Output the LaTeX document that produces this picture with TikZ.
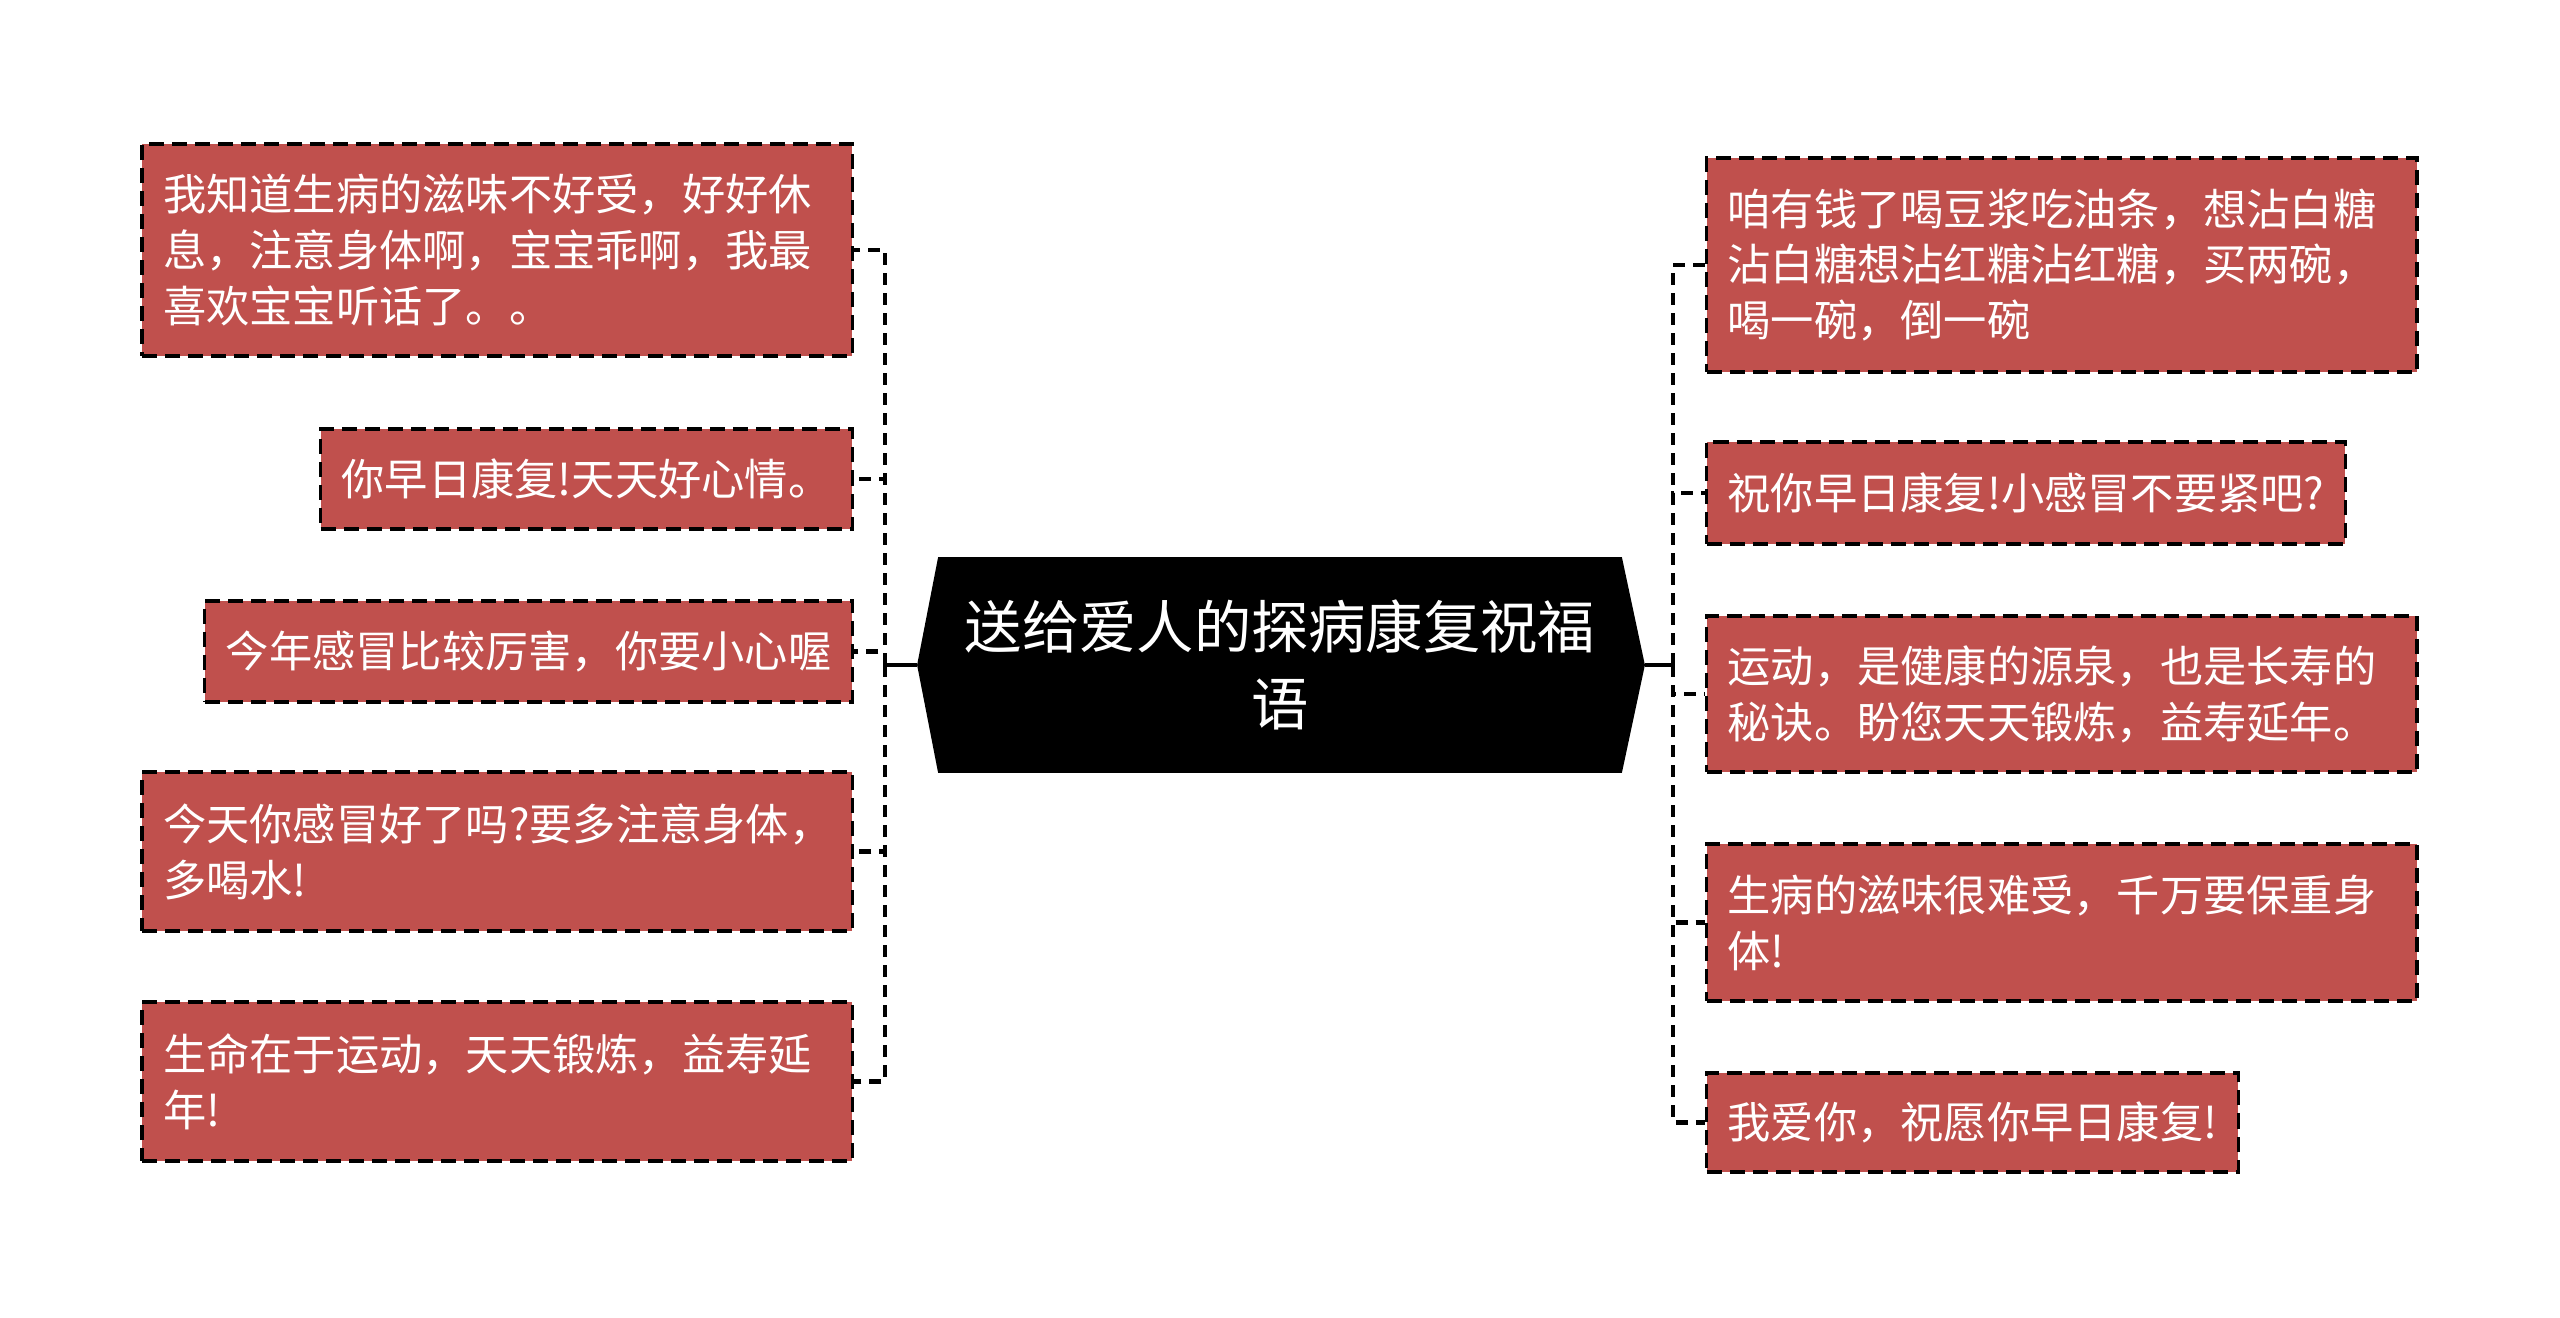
\documentclass[tikz,border=0pt]{standalone}
\usepackage{fontspec}
\usepackage{tikz}
\usetikzlibrary{calc,backgrounds,positioning}
\newfontfamily\cjk{Noto Sans CJK SC}
\definecolor{boxred}{RGB}{192,80,77}
\tikzset{
  leaf/.style={draw=black, line width=0.9pt, dash pattern=on 1.5mm off 0.8mm,
    fill=boxred, text=white, inner xsep=2.1mm, inner ysep=0mm, align=left,
    font=\cjk\fontsize{12.3pt}{15.9pt}\selectfont},
  wide/.style={text width=6.68cm},
  branch/.style={line width=1.2pt, dash pattern=on 1.2mm off 0.8mm},
  stem/.style={line width=1.2pt}
}
\begin{document}
\begin{tikzpicture}[x=0.01cm,y=-0.01cm]
\useasboundingbox (0,0) rectangle (2560,1318);
% centre
\node[text=white, align=center, minimum width=6.82cm, minimum height=2.14cm,
  font=\cjk\fontsize{16.3pt}{21.9pt}\selectfont] (root) at (1280,665) {送给爱人的探病康复祝福\\语};
\coordinate (rootL) at ($(root.west)+(-21,0)$);
\coordinate (rootR) at ($(root.east)+(23,0)$);
\begin{scope}[on background layer]
\fill[black] (root.north west) -- (root.north east) -- (rootR) -- (root.south east)
  -- (root.south west) -- (rootL) -- cycle;
\end{scope}
% left side
\node[leaf, wide, minimum height=2.12cm, anchor=east] (L1) at (854,250)
  {我知道生病的滋味不好受，好好休\\息，注意身体啊，宝宝乖啊，我最\\喜欢宝宝听话了。。};
\node[leaf, minimum width=5.29cm, minimum height=1.0cm, anchor=east] (L2) at (854,479)
  {你早日康复!天天好心情。};
\node[leaf, minimum width=6.45cm, minimum height=1.01cm, anchor=east] (L3) at (854,651.5)
  {今年感冒比较厉害，你要小心喔};
\node[leaf, wide, minimum height=1.59cm, anchor=east] (L4) at (854,851.5)
  {今天你感冒好了吗?要多注意身体，\\多喝水!};
\node[leaf, wide, minimum height=1.59cm, anchor=east] (L5) at (854,1081.5)
  {生命在于运动，天天锻炼，益寿延\\年!};
% right side
\node[leaf, wide, minimum height=2.14cm, anchor=west] (R1) at (1705,265)
  {咱有钱了喝豆浆吃油条，想沾白糖\\沾白糖想沾红糖沾红糖，买两碗，\\喝一碗，倒一碗};
\node[leaf, minimum width=6.35cm, minimum height=1.02cm, anchor=west] (R2) at (1705,493)
  {祝你早日康复!小感冒不要紧吧?};
\node[leaf, wide, minimum height=1.56cm, anchor=west] (R3) at (1705,694)
  {运动，是健康的源泉，也是长寿的\\秘诀。盼您天天锻炼，益寿延年。};
\node[leaf, wide, minimum height=1.57cm, anchor=west] (R4) at (1705,922.5)
  {生病的滋味很难受，千万要保重身\\体!};
\node[leaf, minimum width=5.27cm, minimum height=0.99cm, anchor=west] (R5) at (1705,1122.5)
  {我爱你，祝愿你早日康复!};
% connectors
\coordinate (lj) at (885,665);
\coordinate (rj) at (1673,665);
\draw[stem] (rootL) -- (lj);
\draw[stem] (rootR) -- (rj);
\foreach \n in {L1,L2,L3,L4,L5}
  \draw[branch] (lj) |- (\n.east);
\foreach \n in {R1,R2,R3,R4,R5}
  \draw[branch] (rj) |- (\n.west);
\end{tikzpicture}
\end{document}
